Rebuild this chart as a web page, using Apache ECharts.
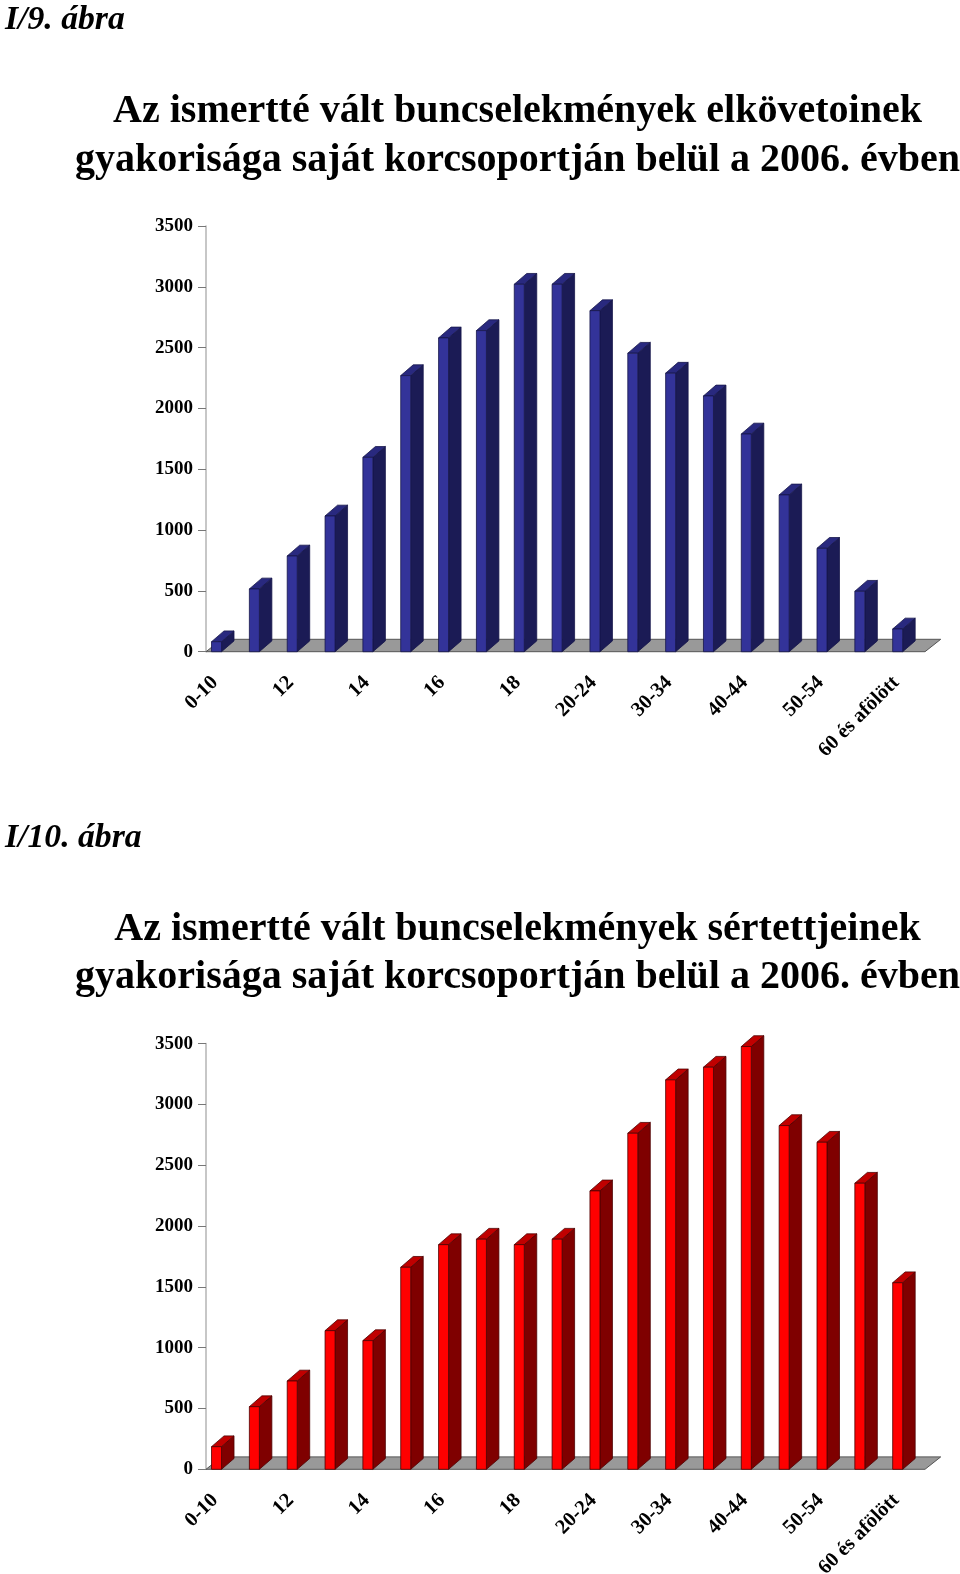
<!DOCTYPE html>
<html><head><meta charset="utf-8">
<style>html,body{margin:0;padding:0;background:#fff}#c{width:960px;height:1574px}</style>
<script src="https://cdn.jsdelivr.net/npm/echarts@6/dist/echarts.min.js"></script>
</head><body><div id="c"></div>
<script>
const categories = ['0-10','11','12','13','14','15','16','17','18','19','20-24','25-29','30-34','35-39','40-44','45-49','50-54','55-59','60 és afölött'];
const offenderValues = [82,516,787,1116,1598,2270,2580,2640,3021,3021,2804,2454,2290,2103,1790,1289,850,497,187];
const victimValues = [186,515,726,1140,1058,1661,1847,1892,1847,1892,2289,2763,3202,3306,3476,2826,2689,2352,1534];
const yTicks = {min:0,max:3500,interval:500};
const serif = '"Liberation Serif","Times New Roman",serif';

function titleLine(text,y){
  return {text,left:512.5,top:y,textAlign:'center',textStyle:{fontFamily:serif,fontWeight:'bold',fontSize:40,color:'#000'}};
}
function captionLine(text,y){
  return {text,left:0,top:y,padding:[0,0,0,5],textStyle:{fontFamily:serif,fontWeight:'bold',fontStyle:'italic',fontSize:33.7,color:'#000'}};
}
const poly=(points,fill,stroke)=>({type:'polygon',shape:{points},style:{fill,stroke,lineWidth:0.8}});
function barSeries(gridIndex,values,front,side,top,edge){
  return {type:'custom',xAxisIndex:gridIndex,yAxisIndex:gridIndex,z:3,data:values,
    renderItem(params,api){
      const p=api.coord([params.dataIndex,api.value(1)]);
      const b=api.coord([params.dataIndex,0]);
      const w=10,dx=12.5,dy=10.8,l=p[0]-8.4-w/2,r=l+w,t=p[1],f=b[1];
      return {type:'group',children:[
        poly([[r,t],[r+dx,t-dy],[r+dx,f-dy],[r,f]],side,edge),
        poly([[l,t],[l+dx,t-dy],[r+dx,t-dy],[r,t]],top,edge),
        poly([[l,t],[r,t],[r,f],[l,f]],front,edge)
      ]};
    },
    encode:{x:0,y:1}
  };
}
function floorSeries(gridIndex){
  return {type:'custom',xAxisIndex:gridIndex,yAxisIndex:gridIndex,z:1,silent:true,data:[[0,0]],
    renderItem(params,api){
      const c=params.coordSys,x=c.x,y=c.y+c.height,w=c.width;
      return {type:'polygon',shape:{points:[[x,y],[x+w,y],[x+w+15.7,y-12.4],[x+15.7,y-12.4]]},
        style:{fill:'#999999',stroke:'#555555',lineWidth:1}};
    },
    encode:{x:0,y:1}
  };
}
const grids=[
  {left:206,width:719,top:226,height:425.7,outerBoundsMode:'none'},
  {left:206,width:719,top:1043.6,height:425.7,outerBoundsMode:'none'}
];
const xAxes=grids.map((g,i)=>({type:'category',gridIndex:i,data:categories,axisLine:{show:false},axisTick:{show:false},
  axisLabel:{interval:1,rotate:45,margin:18,align:'right',verticalAlign:'middle',padding:[0,14,0,0],fontFamily:serif,fontWeight:'bold',fontSize:20.5,color:'#000',hideOverlap:false}}));
const yAxes=grids.map((g,i)=>({type:'value',gridIndex:i,...yTicks,splitLine:{show:false},
  axisLine:{show:true,lineStyle:{color:'#b4b4b4',width:1.5}},axisTick:{show:true,length:8,lineStyle:{color:'#777'}},
  axisLabel:{margin:13,formatter:v=>String(v),padding:i?[3,0,0,0]:0,fontFamily:serif,fontWeight:'bold',fontSize:19,color:'#000'}}));
const chart=echarts.init(document.getElementById('c'),null,{renderer:'canvas'});
const toPairs=v=>v.map((y,i)=>[i,y]);
chart.setOption({animation:false,backgroundColor:'#fff',
  title:[captionLine('I/9. ábra',3),titleLine('Az ismertté vált buncselekmények elkövetoinek',87),titleLine('gyakorisága saját korcsoportján belül a 2006. évben',136),
    captionLine('I/10. ábra',821),titleLine('Az ismertté vált buncselekmények sértettjeinek',905),titleLine('gyakorisága saját korcsoportján belül a 2006. évben',953)],
  grid:grids,xAxis:xAxes,yAxis:yAxes,
  series:[floorSeries(0),barSeries(0,toPairs(offenderValues),'#333399','#1b1b55','#29297f','#17174a'),
          floorSeries(1),barSeries(1,toPairs(victimValues),'#ff0000','#7f0000','#c00000','#4d0000')]
});
</script></body></html>
